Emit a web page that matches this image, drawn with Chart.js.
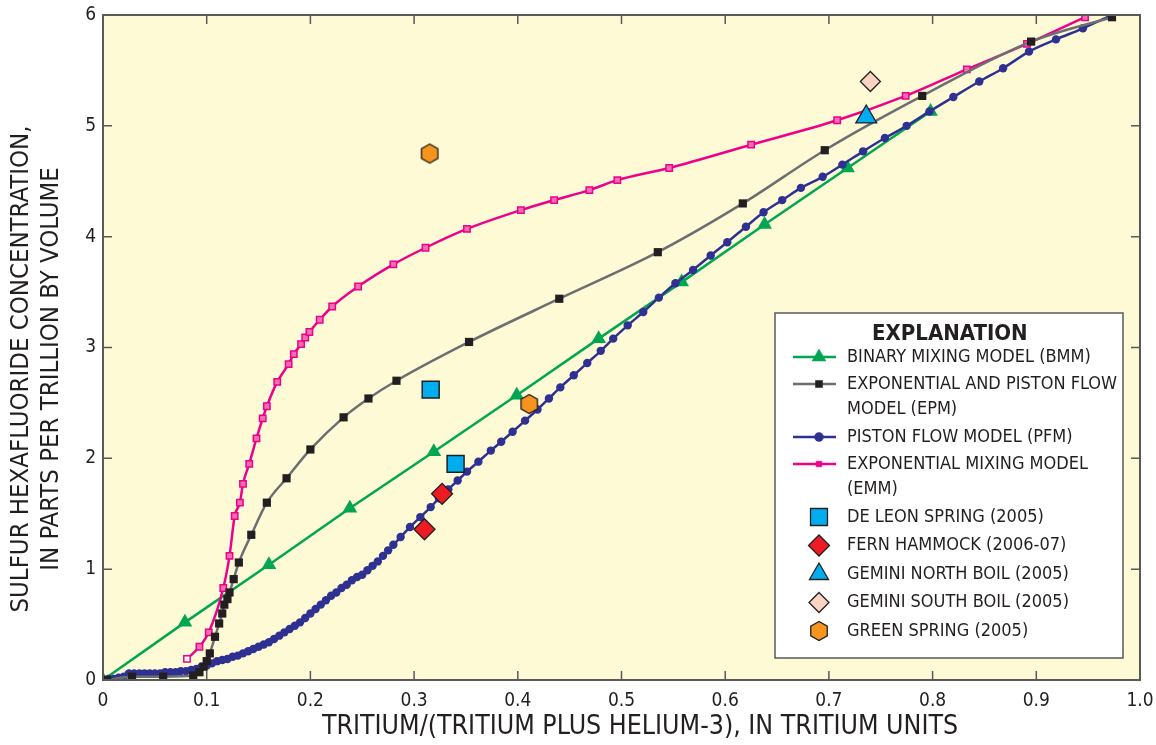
<!DOCTYPE html>
<html>
<head>
<meta charset="utf-8">
<script src="https://cdn.jsdelivr.net/npm/chart.js@4/dist/chart.umd.min.js"></script>
<style>
  html, body { margin: 0; padding: 0; background: #ffffff; }
  #chart { display: block; }
</style>
</head>
<body>
<canvas id="chart" width="1156" height="745"></canvas>
<script>
// tick labels
const xTickLabels = ['0', '0.1', '0.2', '0.3', '0.4', '0.5', '0.6', '0.7', '0.8', '0.9', '1.0'];
const yTickLabels = ['0', '1', '2', '3', '4', '5', '6'];

// binary mixing model (BMM)
const bmmX = [0, 0.079, 0.16, 0.238, 0.319, 0.399, 0.478, 0.558, 0.638, 0.718, 0.798];
const bmmY = [0, 0.52, 1.04, 1.55, 2.06, 2.57, 3.08, 3.59, 4.11, 4.62, 5.13];

// exponential and piston flow model (EPM)
const epmX = [0.004, 0.028, 0.058, 0.087, 0.093, 0.097, 0.1, 0.103, 0.108, 0.112, 0.115, 0.117, 0.12, 0.122, 0.126, 0.131, 0.143, 0.158, 0.177, 0.2, 0.232, 0.256, 0.283, 0.353, 0.44, 0.535, 0.617, 0.696, 0.79, 0.895, 0.973];
const epmY = [0, 0.03, 0.03, 0.04, 0.07, 0.12, 0.17, 0.24, 0.39, 0.51, 0.6, 0.68, 0.73, 0.79, 0.91, 1.06, 1.31, 1.6, 1.82, 2.08, 2.37, 2.54, 2.7, 3.05, 3.44, 3.86, 4.3, 4.78, 5.27, 5.76, 5.98];

// piston flow model (PFM)
const pfmX = [0, 0.005, 0.01, 0.015, 0.02, 0.025, 0.03, 0.035, 0.04, 0.045, 0.05, 0.055, 0.06, 0.065, 0.07, 0.075, 0.08, 0.085, 0.09, 0.095, 0.1, 0.105, 0.11, 0.115, 0.12, 0.125, 0.13, 0.135, 0.14, 0.145, 0.15, 0.155, 0.16, 0.165, 0.17, 0.175, 0.18, 0.185, 0.19, 0.195, 0.2, 0.205, 0.21, 0.215, 0.22, 0.225, 0.23, 0.235, 0.24, 0.245, 0.25, 0.255, 0.26, 0.265, 0.27, 0.275, 0.28, 0.287, 0.296, 0.306, 0.316, 0.324, 0.333, 0.342, 0.351, 0.362, 0.374, 0.384, 0.395, 0.407, 0.419, 0.43, 0.441, 0.454, 0.467, 0.48, 0.492, 0.506, 0.521, 0.536, 0.552, 0.569, 0.586, 0.602, 0.62, 0.637, 0.655, 0.673, 0.694, 0.713, 0.733, 0.754, 0.775, 0.797, 0.82, 0.845, 0.868, 0.893, 0.919, 0.945, 0.973];
const pfmY = [0, 0.01, 0.01, 0.02, 0.03, 0.06, 0.06, 0.06, 0.06, 0.06, 0.06, 0.06, 0.07, 0.07, 0.07, 0.08, 0.08, 0.09, 0.1, 0.12, 0.13, 0.15, 0.17, 0.18, 0.19, 0.21, 0.22, 0.24, 0.26, 0.28, 0.3, 0.32, 0.34, 0.37, 0.4, 0.43, 0.46, 0.49, 0.52, 0.56, 0.6, 0.64, 0.68, 0.72, 0.76, 0.79, 0.83, 0.86, 0.9, 0.93, 0.95, 0.99, 1.03, 1.07, 1.12, 1.17, 1.22, 1.29, 1.38, 1.47, 1.56, 1.64, 1.72, 1.8, 1.88, 1.97, 2.07, 2.15, 2.24, 2.34, 2.44, 2.54, 2.64, 2.75, 2.86, 2.97, 3.08, 3.2, 3.32, 3.45, 3.58, 3.7, 3.83, 3.95, 4.09, 4.22, 4.33, 4.44, 4.54, 4.65, 4.77, 4.89, 5.0, 5.13, 5.26, 5.4, 5.52, 5.67, 5.78, 5.88, 6.0];

// exponential mixing model (EMM)
const emmX = [0.081, 0.093, 0.102, 0.116, 0.122, 0.127, 0.132, 0.135, 0.141, 0.148, 0.154, 0.158, 0.168, 0.179, 0.184, 0.191, 0.195, 0.199, 0.209, 0.221, 0.246, 0.28, 0.311, 0.351, 0.403, 0.435, 0.469, 0.496, 0.546, 0.625, 0.708, 0.774, 0.833, 0.891, 0.947];
const emmY = [0.19, 0.3, 0.43, 0.83, 1.12, 1.48, 1.6, 1.77, 1.95, 2.18, 2.36, 2.47, 2.69, 2.85, 2.94, 3.03, 3.09, 3.14, 3.25, 3.37, 3.55, 3.75, 3.9, 4.07, 4.24, 4.33, 4.42, 4.51, 4.62, 4.83, 5.05, 5.27, 5.51, 5.74, 5.98];

// spring samples
const deLeonX = [0.316, 0.34];
const deLeonY = [2.62, 1.95];
const fernX = [0.327, 0.31];
const fernY = [1.68, 1.36];
const geminiNX = [0.736];
const geminiNY = [5.08];
const geminiSX = [0.74];
const geminiSY = [5.4];
const greenX = [0.315, 0.411];
const greenY = [4.75, 2.49];

const xTitle = 'TRITIUM/(TRITIUM PLUS HELIUM-3), IN TRITIUM UNITS';
const yTitle = ['SULFUR HEXAFLUORIDE CONCENTRATION,', 'IN PARTS PER TRILLION BY VOLUME'];

const FONT = "'Liberation Sans Narrow', 'DejaVu Sans Condensed', 'Roboto', sans-serif";
const INK = '#231f20';

const pts = (xs, ys) => xs.map((x, i) => ({ x: x, y: ys[i] }));

// hexagon marker
function makeHex(size) {
    const c = document.createElement('canvas');
    c.width = size; c.height = size;
    const g = c.getContext('2d');
    const r = size / 2 - 1.5;
    g.beginPath();
    for (let i = 0; i < 6; i++) {
        const a = Math.PI / 2 + i * Math.PI / 3;
        const px = size / 2 + r * Math.cos(a);
        const py = size / 2 - r * Math.sin(a);
        if (i === 0) g.moveTo(px, py); else g.lineTo(px, py);
    }
    g.closePath();
    g.fillStyle = '#f7941d';
    g.fill();
    g.lineWidth = 1.3;
    g.strokeStyle = INK;
    g.stroke();
    return c;
}
const hexImg = makeHex(22);

const emmFill = emmX.map((x, i) => i === 0 ? '#ffffff' : '#f36fb0');

const datasets = [
    { label: 'DE LEON SPRING (2005)', data: pts(deLeonX, deLeonY), showLine: false, pointStyle: 'rect', pointRadius: 12, pointBackgroundColor: '#00aeef', pointBorderColor: INK, pointBorderWidth: 1.5, order: 0 },
    { label: 'FERN HAMMOCK (2006-07)', data: pts(fernX, fernY), showLine: false, pointStyle: 'rectRot', pointRadius: 10.5, pointBackgroundColor: '#ed1c24', pointBorderColor: INK, pointBorderWidth: 1.3, order: 0 },
    { label: 'GEMINI NORTH BOIL (2005)', data: pts(geminiNX, geminiNY), showLine: false, pointStyle: 'triangle', pointRadius: 12, pointBackgroundColor: '#00aeef', pointBorderColor: INK, pointBorderWidth: 1.3, order: 0 },
    { label: 'GEMINI SOUTH BOIL (2005)', data: pts(geminiSX, geminiSY), showLine: false, pointStyle: 'rectRot', pointRadius: 10, pointBackgroundColor: '#fbd3c1', pointBorderColor: INK, pointBorderWidth: 1.3, order: 0 },
    { label: 'GREEN SPRING (2005)', data: pts(greenX, greenY), showLine: false, pointStyle: hexImg, pointRadius: 11, order: 0 },
    { label: 'EPM', data: pts(epmX, epmY), showLine: true, borderColor: '#6d6e71', borderWidth: 2.5, cubicInterpolationMode: 'monotone', pointStyle: 'rect', pointRadius: 5.8, pointBackgroundColor: INK, pointBorderColor: INK, pointBorderWidth: 0, order: 1 },
    { label: 'EMM', data: pts(emmX, emmY), showLine: true, borderColor: '#ec008c', borderWidth: 2.5, cubicInterpolationMode: 'monotone', pointStyle: 'rect', pointRadius: 4.5, pointBackgroundColor: emmFill, pointBorderColor: '#ec008c', pointBorderWidth: 1.5, order: 2 },
    { label: 'PFM', data: pts(pfmX, pfmY), showLine: true, borderColor: '#2e3192', borderWidth: 2.5, cubicInterpolationMode: 'monotone', pointStyle: 'circle', pointRadius: 4.2, pointBackgroundColor: '#2e3192', pointBorderColor: '#2e3192', pointBorderWidth: 0, order: 3 },
    { label: 'BMM', data: pts(bmmX, bmmY), showLine: true, borderColor: '#00a651', borderWidth: 2.5, pointStyle: 'triangle', pointRadius: 8.5, pointBackgroundColor: '#00a651', pointBorderColor: '#00a651', pointBorderWidth: 0, order: 4 }
];

// legend entries drawn by hand inside the plot
const legendRows = [
    { kind: 'line', color: '#00a651', style: 'triangle', r: 8, fill: '#00a651', text: ['BINARY MIXING MODEL (BMM)'] },
    { kind: 'line', color: '#6d6e71', style: 'rect', r: 5, fill: INK, text: ['EXPONENTIAL AND PISTON FLOW', 'MODEL (EPM)'] },
    { kind: 'line', color: '#2e3192', style: 'circle', r: 4.5, fill: '#2e3192', text: ['PISTON FLOW MODEL (PFM)'] },
    { kind: 'line', color: '#ec008c', style: 'rect', r: 4, fill: '#ec008c', text: ['EXPONENTIAL MIXING MODEL', '(EMM)'] },
    { kind: 'pt', style: 'rect', r: 12, fill: '#00aeef', text: ['DE LEON SPRING (2005)'] },
    { kind: 'pt', style: 'rectRot', r: 10.5, fill: '#ed1c24', text: ['FERN HAMMOCK (2006-07)'] },
    { kind: 'pt', style: 'triangle', r: 11, fill: '#00aeef', text: ['GEMINI NORTH BOIL (2005)'] },
    { kind: 'pt', style: 'rectRot', r: 10, fill: '#fbd3c1', text: ['GEMINI SOUTH BOIL (2005)'] },
    { kind: 'pt', style: hexImg, r: 11, fill: '#f7941d', text: ['GREEN SPRING (2005)'] }
];

const framePlugin = {
    id: 'frame',
    beforeDatasetsDraw(chart) {
        const a = chart.chartArea, ctx = chart.ctx;
        ctx.save();
        ctx.fillStyle = '#fffad6';
        ctx.fillRect(a.left, a.top, a.right - a.left, a.bottom - a.top);
        ctx.restore();
    },
    afterDatasetsDraw(chart) {
        const a = chart.chartArea, ctx = chart.ctx;
        const xs = chart.scales.x, ys = chart.scales.y;
        ctx.save();
        ctx.beginPath();
        ctx.rect(a.left, a.top, a.right - a.left, a.bottom - a.top);
        ctx.lineWidth = 2;
        ctx.strokeStyle = '#58595b';
        ctx.stroke();
        ctx.lineWidth = 1.5;
        ctx.beginPath();
        xTickLabels.forEach((t, i) => {
            const px = xs.getPixelForValue(i / 10);
            ctx.moveTo(px, a.bottom); ctx.lineTo(px, a.bottom - 9);
            ctx.moveTo(px, a.top); ctx.lineTo(px, a.top + 9);
        });
        yTickLabels.forEach((t, i) => {
            const py = ys.getPixelForValue(i);
            ctx.moveTo(a.left, py); ctx.lineTo(a.left + 9, py);
            ctx.moveTo(a.right, py); ctx.lineTo(a.right - 9, py);
        });
        ctx.stroke();
        ctx.restore();
    },
    afterDraw(chart) {
        const ctx = chart.ctx;
        ctx.save();
        // axis titles
        ctx.fillStyle = INK;
        ctx.textAlign = 'center';
        ctx.textBaseline = 'middle';
        ctx.font = "26.5px " + FONT;
        ctx.fillText(xTitle, 640, 727);
        ctx.save();
        ctx.translate(0, 369);
        ctx.rotate(-Math.PI / 2);
        ctx.font = "25.5px " + FONT;
        ctx.fillText(yTitle[0], 0, 21);
        ctx.fillText(yTitle[1], 0, 51);
        ctx.restore();

        // legend box
        const bx = 775, by = 313, bw = 348, bh = 345;
        ctx.fillStyle = '#ffffff';
        ctx.fillRect(bx, by, bw, bh);
        ctx.lineWidth = 1.5;
        ctx.strokeStyle = '#58595b';
        ctx.strokeRect(bx, by, bw, bh);

        ctx.fillStyle = INK;
        ctx.textAlign = 'left';
        ctx.font = "bold 22px " + FONT;
        ctx.fillText('EXPLANATION', bx + 97, by + 21);

        ctx.font = "18px " + FONT;
        let y = by + 44;
        const mx = bx + 44, tx = bx + 72;
        legendRows.forEach(row => {
            if (row.kind === 'line') {
                ctx.strokeStyle = row.color;
                ctx.lineWidth = 2.5;
                ctx.beginPath();
                ctx.moveTo(bx + 18, y); ctx.lineTo(bx + 61, y);
                ctx.stroke();
                ctx.fillStyle = row.fill;
                ctx.strokeStyle = row.fill;
                ctx.lineWidth = 0.5;
                Chart.helpers.drawPoint(ctx, { pointStyle: row.style, radius: row.r, rotation: 0, borderWidth: 0.5 }, mx, y);
            } else {
                ctx.fillStyle = row.fill;
                ctx.strokeStyle = INK;
                ctx.lineWidth = 1.3;
                Chart.helpers.drawPoint(ctx, { pointStyle: row.style, radius: row.r, rotation: 0, borderWidth: 1.3 }, mx, y);
            }
            ctx.fillStyle = INK;
            row.text.forEach((t, k) => {
                ctx.fillText(t, tx, y + k * 25.5);
            });
            y += row.kind === 'pt' ? 28.5 : row.text.length * 26 + 1;
        });
        ctx.restore();
    }
};

// fixed box sizes so the plot area lands where the original has it
function fixX(s) { s.height = 65; s.paddingLeft = 0; s.paddingRight = 0; }
function fixY(s) { s.width = 103; s.paddingTop = 0; s.paddingBottom = 0; }

new Chart(document.getElementById('chart'), {
    type: 'scatter',
    data: { datasets: datasets },
    options: {
        responsive: false,
        animation: false,
        layout: { padding: { top: 15, right: 16, left: 0, bottom: 0 } },
        plugins: { legend: { display: false }, tooltip: { enabled: false } },
        scales: {
            x: {
                type: 'linear', min: 0, max: 1,
                afterFit: fixX,
                afterBuildTicks: s => { s.ticks = xTickLabels.map((t, i) => ({ value: i / 10 })); },
                grid: { display: false, drawTicks: false },
                border: { display: false },
                ticks: { padding: 10, color: INK, font: { family: FONT, size: 19 }, maxRotation: 0, callback: (v, i) => xTickLabels[i] },
                title: { display: false }
            },
            y: {
                type: 'linear', min: 0, max: 6,
                afterFit: fixY,
                afterBuildTicks: s => { s.ticks = yTickLabels.map((t, i) => ({ value: i })); },
                grid: { display: false, drawTicks: false },
                border: { display: false },
                ticks: { padding: 7, color: INK, font: { family: FONT, size: 19 }, callback: (v, i) => yTickLabels[i] },
                title: { display: false }
            }
        }
    },
    plugins: [framePlugin]
});
</script>
</body>
</html>
